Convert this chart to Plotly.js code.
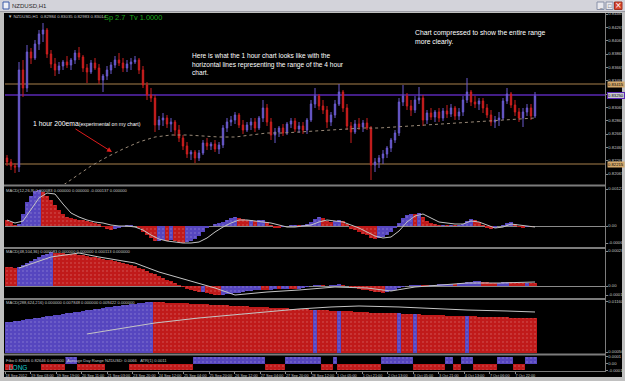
<!DOCTYPE html>
<html><head><meta charset="utf-8">
<script src="https://cdn.plot.ly/plotly-3.0.1.min.js"></script>
<style>html,body{margin:0;padding:0;background:#c0c0c0;overflow:hidden}#chart{width:625px;height:381px}</style>
</head><body><div id="chart"></div>
<script>
// ---------- DATA ----------
const timeLabels = ["18 Sep 2012","19 Sep 03:00","19 Sep 19:00","20 Sep 11:00","21 Sep 03:00","23 Sep 20:00","24 Sep 12:00","25 Sep 04:00","25 Sep 20:00","26 Sep 12:00","27 Sep 04:00","27 Sep 20:00","28 Sep 12:00","1 Oct 05:00","1 Oct 21:00","2 Oct 13:00","3 Oct 05:00","3 Oct 21:00","4 Oct 13:00","7 Oct 06:00","7 Oct 22:00"];
const timeTickIdx = [-0.5,5.9,12.3,18.6,25.0,31.4,37.8,44.1,50.5,56.9,63.3,69.6,76.0,82.4,88.8,95.1,101.5,107.9,114.3,120.6,127.0];

const openP = [0.82305,0.82245,0.82185,0.82170,0.83625,0.83355,0.83895,0.83805,0.84015,0.84165,
0.84225,0.83865,0.83715,0.83625,0.83685,0.83745,0.83700,0.83775,0.83880,0.83820,
0.83655,0.83595,0.83730,0.83655,0.83475,0.83535,0.83625,0.83700,0.83775,0.83730,
0.83655,0.83715,0.83745,0.83775,0.83625,0.83400,0.83250,0.83205,0.82800,0.82875,
0.82905,0.82815,0.82845,0.82725,0.82605,0.82485,0.82365,0.82395,0.82305,0.82380,
0.82530,0.82485,0.82515,0.82440,0.82500,0.82755,0.82845,0.82875,0.82950,0.82800,
0.82725,0.82800,0.82845,0.82755,0.82905,0.83055,0.82845,0.82650,0.82695,0.82755,
0.82680,0.82815,0.82860,0.82740,0.82785,0.82725,0.82875,0.83115,0.83235,0.83085,
0.83025,0.82845,0.82950,0.83115,0.83295,0.83055,0.82785,0.82695,0.82815,0.82770,
0.82830,0.82755,0.82200,0.82245,0.82305,0.82365,0.82455,0.82575,0.82680,0.83145,
0.83235,0.83085,0.83025,0.83175,0.83205,0.82875,0.82980,0.82920,0.82995,0.82905,
0.83010,0.82965,0.83055,0.82935,0.82995,0.83175,0.83295,0.83145,0.83115,0.83160,
0.83055,0.82950,0.82845,0.82875,0.82905,0.83160,0.83265,0.83100,0.82995,0.82905,
0.82995,0.83055,0.82935];
const highP = [0.82350,0.82290,0.82230,0.83745,0.83775,0.84000,0.83955,0.84075,0.84225,0.84330,
0.84255,0.83925,0.83805,0.83745,0.83775,0.83835,0.83805,0.83925,0.83970,0.83850,
0.83715,0.83775,0.83805,0.83715,0.83565,0.83685,0.83745,0.83835,0.83880,0.83805,
0.83775,0.83805,0.83835,0.83805,0.83685,0.83445,0.83355,0.83250,0.82935,0.82980,
0.82950,0.82905,0.82875,0.82800,0.82650,0.82545,0.82425,0.82425,0.82425,0.82575,
0.82605,0.82545,0.82575,0.82545,0.82800,0.82905,0.82935,0.82995,0.82980,0.82875,
0.82845,0.82905,0.82905,0.82935,0.83175,0.83115,0.82905,0.82755,0.82785,0.82815,
0.82845,0.82905,0.82905,0.82845,0.82845,0.82905,0.83175,0.83355,0.83265,0.83175,
0.83085,0.82995,0.83175,0.83415,0.83325,0.83115,0.82845,0.82875,0.82905,0.82875,
0.82905,0.82785,0.82305,0.82350,0.82425,0.82485,0.82605,0.82725,0.83205,0.83400,
0.83280,0.83175,0.83235,0.83370,0.83250,0.83025,0.83055,0.83025,0.83055,0.83055,
0.83100,0.83115,0.83085,0.83055,0.83235,0.83505,0.83325,0.83235,0.83205,0.83205,
0.83115,0.83025,0.82935,0.82995,0.83205,0.83355,0.83295,0.83175,0.83055,0.83055,
0.83115,0.83115,0.83295];
const lowP = [0.82185,0.82125,0.82080,0.82095,0.83220,0.83295,0.83715,0.83775,0.83925,0.84045,
0.83805,0.83655,0.83535,0.83565,0.83625,0.83655,0.83625,0.83715,0.83775,0.83595,
0.83430,0.83565,0.83625,0.83415,0.83295,0.83475,0.83565,0.83655,0.83685,0.83595,
0.83595,0.83625,0.83715,0.83565,0.83355,0.83175,0.83145,0.82695,0.82725,0.82785,
0.82755,0.82695,0.82635,0.82545,0.82425,0.82305,0.82275,0.82230,0.82260,0.82350,
0.82425,0.82425,0.82395,0.82365,0.82455,0.82695,0.82785,0.82815,0.82755,0.82665,
0.82695,0.82725,0.82695,0.82725,0.82845,0.82785,0.82575,0.82530,0.82620,0.82635,
0.82650,0.82755,0.82695,0.82680,0.82665,0.82665,0.82845,0.83055,0.83025,0.82965,
0.82755,0.82785,0.82905,0.83085,0.82995,0.82725,0.82530,0.82665,0.82725,0.82695,
0.82725,0.81975,0.82095,0.82155,0.82215,0.82305,0.82395,0.82530,0.82635,0.83085,
0.83025,0.82935,0.82980,0.83115,0.82785,0.82815,0.82875,0.82845,0.82845,0.82860,
0.82905,0.82920,0.82875,0.82875,0.82935,0.83130,0.83085,0.83055,0.83025,0.82980,
0.82905,0.82785,0.82755,0.82785,0.82875,0.83115,0.83055,0.82935,0.82845,0.82770,
0.82935,0.82875,0.82905];
const closeP = [0.82245,0.82185,0.82170,0.83625,0.83355,0.83895,0.83805,0.84015,0.84165,0.84225,
0.83865,0.83715,0.83625,0.83685,0.83745,0.83700,0.83775,0.83880,0.83820,0.83655,
0.83595,0.83730,0.83655,0.83475,0.83535,0.83625,0.83700,0.83775,0.83730,0.83655,
0.83715,0.83745,0.83775,0.83625,0.83400,0.83250,0.83205,0.82800,0.82875,0.82905,
0.82815,0.82845,0.82725,0.82605,0.82485,0.82365,0.82395,0.82305,0.82380,0.82530,
0.82485,0.82515,0.82440,0.82500,0.82755,0.82845,0.82875,0.82950,0.82800,0.82725,
0.82800,0.82845,0.82755,0.82905,0.83055,0.82845,0.82650,0.82695,0.82755,0.82680,
0.82815,0.82860,0.82740,0.82785,0.82725,0.82875,0.83115,0.83235,0.83085,0.83025,
0.82845,0.82950,0.83115,0.83295,0.83055,0.82785,0.82695,0.82815,0.82770,0.82830,
0.82755,0.82200,0.82245,0.82305,0.82365,0.82455,0.82575,0.82680,0.83145,0.83235,
0.83085,0.83025,0.83175,0.83205,0.82875,0.82980,0.82920,0.82995,0.82905,0.83010,
0.82965,0.83055,0.82935,0.82995,0.83175,0.83295,0.83145,0.83115,0.83160,0.83055,
0.82950,0.82845,0.82875,0.82905,0.83160,0.83265,0.83100,0.82995,0.82905,0.82995,
0.83055,0.82935,0.83235];

const emaIdx = [13,17,21,25,29,33,37,41,45,49,53,57,61,65,69,73,77,81,85,89,93,97,101,105,109,113,117,121,125,129,132];
const ema200 = [0.81855,0.82020,0.82185,0.82320,0.82440,0.82545,0.82620,0.82650,0.82650,0.82635,0.82620,0.82620,0.82650,0.82680,0.82680,0.82695,0.82710,0.82725,0.82740,0.82755,0.82755,0.82770,0.82785,0.82800,0.82815,0.82830,0.82845,0.82860,0.82875,0.82890,0.82905];

const rangeHigh4h = 0.83415;
const rangeLow4h = 0.82215;
const bidLevel = 0.83250;
const priceTicks = [0.84465,0.84265,0.84065,0.83865,0.83665,0.83465,0.83265,0.83065,0.82865,0.82665,0.82465,0.82265,0.82065];

const macd1Hist = [0.000198,0.000132,0.000033,0.000066,0.000396,0.000792,0.000990,0.001155,0.001188,0.001122,
0.000990,0.000858,0.000693,0.000528,0.000396,0.000297,0.000264,0.000231,0.000198,0.000182,
0.000165,0.000132,0.000099,0.000066,-0.000033,-0.000099,-0.000132,-0.000099,-0.000066,-0.000033,
0.000033,0.000040,0.000000,-0.000066,-0.000198,-0.000297,-0.000396,-0.000495,-0.000479,-0.000462,
-0.000495,-0.000462,-0.000495,-0.000528,-0.000561,-0.000528,-0.000495,-0.000429,-0.000330,-0.000198,
-0.000066,0.000000,0.000066,0.000099,0.000132,0.000198,0.000264,0.000297,0.000264,0.000231,
0.000198,0.000208,0.000165,0.000182,0.000198,0.000132,0.000033,-0.000066,-0.000073,-0.000033,
0.000000,0.000033,0.000036,0.000030,0.000033,0.000066,0.000132,0.000231,0.000297,0.000264,
0.000165,0.000132,0.000165,0.000198,0.000165,0.000066,-0.000099,-0.000132,-0.000198,-0.000264,
-0.000297,-0.000396,-0.000429,-0.000396,-0.000363,-0.000297,-0.000198,-0.000066,0.000099,0.000264,
0.000363,0.000396,0.000389,0.000429,0.000297,0.000165,0.000099,0.000066,0.000033,0.000040,
0.000030,0.000036,0.000026,0.000033,0.000066,0.000165,0.000231,0.000198,0.000132,0.000033,
-0.000066,-0.000099,-0.000066,0.000000,0.000033,0.000099,0.000132,0.000066,-0.000033,-0.000066,
-0.000033,-0.000043,0.000000];
const macd1SigIdx = [0,2,4,6,8,10,12,14,16,18,20,22,24,26,28,30,32,34,36,38,40,42,44,46,48,50,52,54,56,58,60,62,64,66,68,70,72,74,76,78,80,82,84,86,88,90,92,94,96,98,100,102,104,106,108,110,112,114,116,118,120,122,124,126,128,130,132];
const macd1Sig = [0.000198,0.000099,0.000165,0.000528,0.000924,0.001089,0.001056,0.000726,0.000429,0.000297,
0.000198,0.000132,0.000099,0.000033,0,0,-0.000033,-0.000132,-0.000297,-0.000429,
-0.000495,-0.000528,-0.000561,-0.000561,-0.000528,-0.000396,-0.000198,-0.000033,0.000099,0.000198,
0.000198,0.000165,0.000132,0.000099,0.000033,-0.000033,-0.000033,0,0.000033,0.000132,
0.000198,0.000165,0.000132,0.000033,-0.000066,-0.000198,-0.000330,-0.000396,-0.000363,-0.000165,
0.000132,0.000330,0.000396,0.000264,0.000132,0.000099,0.000066,0.000066,0.000165,0.000132,
0.000033,-0.000066,-0.000033,0.000066,0.000033,0,-0.000033];

const macd2Hist = [0.000156,0.000152,0.000148,0.000152,0.000168,0.000184,0.000200,0.000216,0.000232,0.000248,
0.000256,0.000272,0.000268,0.000264,0.000262,0.000260,0.000258,0.000256,0.000252,0.000248,
0.000240,0.000236,0.000232,0.000224,0.000216,0.000212,0.000208,0.000200,0.000192,0.000184,
0.000176,0.000168,0.000160,0.000148,0.000136,0.000120,0.000108,0.000096,0.000080,0.000064,
0.000052,0.000040,0.000024,0.000008,-0.000008,-0.000024,-0.000032,-0.000040,-0.000048,-0.000046,
-0.000056,-0.000064,-0.000068,-0.000072,-0.000068,-0.000064,-0.000060,-0.000056,-0.000052,-0.000048,
-0.000040,-0.000036,-0.000032,-0.000028,-0.000030,-0.000032,-0.000028,-0.000024,-0.000026,-0.000024,
-0.000020,-0.000022,-0.000024,-0.000020,-0.000016,-0.000008,0.000000,0.000008,0.000012,0.000010,
0.000004,0.000006,0.000012,0.000016,0.000012,0.000004,-0.000004,-0.000012,-0.000020,-0.000028,
-0.000032,-0.000040,-0.000044,-0.000048,-0.000052,-0.000048,-0.000040,-0.000028,-0.000016,-0.000004,
0.000004,0.000008,0.000010,0.000012,0.000008,0.000006,0.000010,0.000012,0.000014,0.000016,
0.000018,0.000020,0.000018,0.000022,0.000024,0.000030,0.000036,0.000040,0.000041,0.000036,
0.000032,0.000028,0.000026,0.000027,0.000030,0.000032,0.000030,0.000028,0.000026,0.000024,
0.000026,0.000024,0.000022];
const macd2SigIdx = [3,11,18,23,32,38,45,52,57,65,73,82,90,96,102,108,115,123,132];
const macd2Sig = [0.000144,0.000232,0.000264,0.000232,0.000184,0.000112,0.000048,-0.000016,-0.000072,-0.000048,-0.000032,-0.000008,-0.000016,-0.000040,-0.000008,0.000008,0.000024,0.000024,0.000032];

const macd3Hist = [0.00716,0.00727,0.00738,0.00749,0.00760,0.00774,0.00787,0.00800,0.00814,0.00827,
0.00840,0.00854,0.00867,0.00880,0.00894,0.00907,0.00920,0.00934,0.00947,0.00960,
0.00974,0.00987,0.01000,0.01013,0.01027,0.01040,0.01051,0.01062,0.01073,0.01085,
0.01096,0.01107,0.01118,0.01129,0.01140,0.01151,0.01160,0.01156,0.01153,0.01149,
0.01145,0.01142,0.01138,0.01134,0.01131,0.01127,0.01123,0.01120,0.01116,0.01112,
0.01107,0.01103,0.01098,0.01094,0.01090,0.01085,0.01081,0.01076,0.01072,0.01068,
0.01063,0.01059,0.01054,0.01050,0.01046,0.01041,0.01037,0.01032,0.01028,0.01024,
0.01019,0.01015,0.01010,0.01006,0.01001,0.00996,0.00991,0.00993,0.00986,0.00981,
0.00976,0.00971,0.00966,0.00969,0.00960,0.00955,0.00949,0.00944,0.00938,0.00933,
0.00927,0.00924,0.00921,0.00918,0.00916,0.00913,0.00910,0.00907,0.00909,0.00903,
0.00898,0.00893,0.00896,0.00886,0.00882,0.00877,0.00872,0.00869,0.00866,0.00862,
0.00859,0.00856,0.00853,0.00850,0.00846,0.00849,0.00841,0.00838,0.00835,0.00832,
0.00830,0.00827,0.00824,0.00821,0.00819,0.00816,0.00814,0.00811,0.00809,0.00806,
0.00804,0.00801,0.00799];
const macd3SigIdx = [20,28,37,48,61,73,81,88,98,107,115,125,132];
const macd3Sig = [0.00450,0.00561,0.00694,0.00805,0.00916,0.01005,0.01049,0.01071,0.01049,0.01005,0.00982,0.00960,0.00938];

const trendLevel = [-1e-4,-1e-4,
0,0,0,0,0,0,0,
-1e-4,-1e-4,-1e-4,-1e-4,-1e-4,-1e-4,
1e-4,1e-4,1e-4,
-1e-4,-1e-4,-1e-4,-1e-4,-1e-4,-1e-4,-1e-4,
0,0,0,0,0,0,
-1e-4,-1e-4,-1e-4,-1e-4,-1e-4,-1e-4,-1e-4,-1e-4,-1e-4,-1e-4,-1e-4,-1e-4,-1e-4,-1e-4,-1e-4,-1e-4,
1e-4,1e-4,1e-4,1e-4,1e-4,1e-4,1e-4,1e-4,1e-4,1e-4,1e-4,1e-4,1e-4,1e-4,1e-4,1e-4,1e-4,1e-4,
-1e-4,-1e-4,-1e-4,-1e-4,-1e-4,
1e-4,1e-4,1e-4,1e-4,1e-4,1e-4,1e-4,1e-4,1e-4,
-1e-4,-1e-4,-1e-4,
1e-4,
-1e-4,-1e-4,-1e-4,-1e-4,-1e-4,-1e-4,-1e-4,-1e-4,-1e-4,-1e-4,-1e-4,
1e-4,1e-4,1e-4,1e-4,1e-4,1e-4,1e-4,1e-4,
-1e-4,-1e-4,-1e-4,-1e-4,-1e-4,-1e-4,-1e-4,-1e-4,
1e-4,1e-4,
-1e-4,-1e-4,
1e-4,1e-4,1e-4,
-1e-4,-1e-4,-1e-4,-1e-4,-1e-4,-1e-4,
1e-4,1e-4,1e-4,1e-4,
-1e-4,-1e-4,-1e-4,
1e-4,1e-4,1e-4];

// ---------- STYLE / BUILD ----------
const W = 625, H = 381;
const px = x => x / W;
const py = y => 1 - y / H;
const BLUE = '#5646bf', RED = '#c01a1a';
const DOT_RED = '#ff8c8c', DOT_BLUE = '#7468d8';
const barIdx = closeP.map((_, i) => i);
function slopeColors(v, up, down) {
  return v.map((val, i) => (i === 0 ? v[1] > v[0] : val > v[i - 1]) ? up : down);
}
const dotPattern = cols => ({fillmode:'overlay', shape:'.', fgcolor:cols.map(c => c === RED ? DOT_RED : DOT_BLUE),
  fgopacity:0.35, size:4, solidity:0.08});
function histTrace(vals, yaxis) {
  const cols = slopeColors(vals, BLUE, RED);
  return {type:'bar', x:barIdx, y:vals, xaxis:'x', yaxis:yaxis, width:1,
    marker:{color:cols, line:{width:0}, pattern:dotPattern(cols)}, hoverinfo:'skip'};
}
const sigLine = (xs, ys, yaxis) => ({type:'scatter', mode:'lines', x:xs, y:ys, xaxis:'x', yaxis:yaxis,
  line:{color:'#c4c4c4', width:1}, hoverinfo:'skip'});
const trendCols = trendLevel.map(v => v > 0 ? BLUE : RED);

const traces = [
  {type:'candlestick', x:barIdx, open:openP, high:highP, low:lowP, close:closeP, xaxis:'x', yaxis:'y',
   whiskerwidth:0,
   increasing:{line:{color:'#6a5acd', width:1}, fillcolor:'#6a5acd'},
   decreasing:{line:{color:'#cc1e1e', width:1}, fillcolor:'#cc1e1e'}, hoverinfo:'skip'},
  {type:'scatter', mode:'lines', x:emaIdx, y:ema200, xaxis:'x', yaxis:'y',
   line:{color:'#9a8a78', width:1, dash:'dot'}, hoverinfo:'skip'},
  histTrace(macd1Hist, 'y2'), sigLine(macd1SigIdx, macd1Sig, 'y2'),
  histTrace(macd2Hist, 'y3'), sigLine(macd2SigIdx, macd2Sig, 'y3'),
  histTrace(macd3Hist, 'y4'), sigLine(macd3SigIdx, macd3Sig, 'y4'),
  {type:'bar', x:barIdx, y:trendLevel, xaxis:'x', yaxis:'y5', width:1,
   marker:{color:trendCols, line:{width:0}, pattern:dotPattern(trendCols)}, hoverinfo:'skip'}
];

const FONT = 'Liberation Sans, Arial, sans-serif';
const tickFont = {family:FONT, size:4.2, color:'#c4c4c4'};
const yBase = {side:'right', anchor:'x', showgrid:false, showline:false, ticks:'outside', ticklen:1.5,
  tickcolor:'#8a8a8a', tickfont:tickFont, fixedrange:true, tickmode:'array'};

const layout = {
  width:W, height:H, margin:{l:0, r:0, t:0, b:0},
  paper_bgcolor:'#c0c0c0', plot_bgcolor:'rgba(0,0,0,0)',
  showlegend:false, bargap:0, boxgap:0.5, hovermode:false,
  font:{family:FONT, size:6, color:'#c4c4c4'},
  xaxis:{domain:[px(5), px(605)], range:[-0.5, 149.5], anchor:'y5', rangeslider:{visible:false},
    showgrid:false, zeroline:false, showline:false, tickmode:'array', tickvals:timeTickIdx, ticktext:timeLabels,
    ticks:'outside', ticklen:2, tickcolor:'#8a8a8a', tickangle:0, ticklabelposition:'outside right',
    tickfont:{family:FONT, size:3.8, color:'#c4c4c4'}, fixedrange:true},
  yaxis:Object.assign({}, yBase, {domain:[py(184), py(13)], range:[0.81915, 0.8448],
    tickvals:priceTicks, tickformat:'.5f', zeroline:false}),
  yaxis2:Object.assign({}, yBase, {domain:[py(247), py(187)], range:[-0.000693, 0.001287],
    tickvals:[0.001221, 0, -0.000561], ticktext:['0.00122','0.00','-0.0006'],
    zeroline:true, zerolinecolor:'#8a8a8a', zerolinewidth:1}),
  yaxis3:Object.assign({}, yBase, {domain:[py(298), py(249)], range:[-0.000096, 0.000296],
    tickvals:[0.00028, 0, -0.000072], ticktext:['0.00028','0.00','-0.0001'],
    zeroline:true, zerolinecolor:'#8a8a8a', zerolinewidth:1}),
  yaxis4:Object.assign({}, yBase, {domain:[py(353), py(300)], range:[0.00028, 0.01204],
    tickvals:[0.0116, 0.0005], ticktext:['0.01160','0.00050'], zeroline:false}),
  yaxis5:Object.assign({}, yBase, {domain:[py(371), py(356)], range:[-0.00011, 0.00011],
    tickvals:[0.0001, 0, -0.0001], ticktext:['0.0001','0.00','-0.0001'], zeroline:false}),
  shapes:[
    {type:'rect', xref:'paper', yref:'paper', x0:0, x1:1, y0:py(11), y1:1, fillcolor:'#d3d3da', line:{width:0}, layer:'below'},
    {type:'line', xref:'paper', yref:'paper', x0:0, x1:1, y0:py(11.5), y1:py(11.5), line:{color:'#9a9aa2', width:1}, layer:'below'},
    {type:'rect', xref:'paper', yref:'paper', x0:px(4), x1:px(622), y0:py(377), y1:py(13), fillcolor:'#000000', line:{width:0}, layer:'below'},
    {type:'line', xref:'paper', yref:'y', x0:px(5), x1:px(605), y0:rangeHigh4h, y1:rangeHigh4h, line:{color:'#a8804c', width:1}, layer:'below'},
    {type:'line', xref:'paper', yref:'y', x0:px(5), x1:px(605), y0:rangeLow4h, y1:rangeLow4h, line:{color:'#a8804c', width:1}, layer:'below'},
    {type:'line', xref:'paper', yref:'y', x0:px(5), x1:px(605), y0:bidLevel, y1:bidLevel, line:{color:'#5a28b4', width:1.5}, layer:'below'},
    {type:'line', xref:'paper', yref:'paper', x0:px(4), x1:px(606), y0:py(185.5), y1:py(185.5), line:{color:'#7c7c7c', width:2}},
    {type:'line', xref:'paper', yref:'paper', x0:px(4), x1:px(606), y0:py(248), y1:py(248), line:{color:'#7c7c7c', width:2}},
    {type:'line', xref:'paper', yref:'paper', x0:px(4), x1:px(606), y0:py(299), y1:py(299), line:{color:'#7c7c7c', width:2}},
    {type:'line', xref:'paper', yref:'paper', x0:px(4), x1:px(606), y0:py(354.5), y1:py(354.5), line:{color:'#7c7c7c', width:2}},
    {type:'line', xref:'paper', yref:'paper', x0:px(4), x1:px(606), y0:py(371.5), y1:py(371.5), line:{color:'#7c7c7c', width:1}},
    {type:'line', xref:'paper', yref:'paper', x0:px(605.5), x1:px(605.5), y0:py(372), y1:py(13), line:{color:'#7c7c7c', width:1}},
    {type:'rect', xref:'paper', yref:'paper', x0:px(3), x1:px(9), y0:py(9), y1:py(2), fillcolor:'#eef0f6', line:{color:'#3a5aa8', width:1}},
    {type:'rect', xref:'paper', yref:'paper', x0:px(597), x1:px(604), y0:py(9.5), y1:py(2), fillcolor:'#e8e8ee', line:{color:'#8890a8', width:1}},
    {type:'rect', xref:'paper', yref:'paper', x0:px(606), x1:px(613), y0:py(9.5), y1:py(2), fillcolor:'#e8e8ee', line:{color:'#8890a8', width:1}},
    {type:'rect', xref:'paper', yref:'paper', x0:px(614.5), x1:px(622), y0:py(9.5), y1:py(2), fillcolor:'#d8442c', line:{color:'#a03020', width:1}}
  ],
  annotations:[]
};

const A = (x, y, text, opts) => Object.assign({xref:'paper', yref:'paper', x:px(x), y:py(y), text:text,
  showarrow:false, xanchor:'left', yanchor:'middle', borderpad:0,
  font:{family:FONT, size:5, color:'#c4c4c4'}}, opts || {});

layout.annotations.push(
  A(11, 6, 'NZDUSD,H1', {font:{family:FONT, size:6, color:'#2a2a2a'}}),
  A(600.5, 6, '_', {xanchor:'center', font:{size:5, color:'#333'}}),
  A(609.5, 6, '□', {xanchor:'center', font:{size:6, color:'#333'}}),
  A(618.2, 5.8, '×', {xanchor:'center', font:{family:'DejaVu Sans', size:8, color:'#ffffff'}}),
  A(7, 17, '▼ NZDUSD,H1  0.82984 0.83035 0.82983 0.83014', {font:{family:FONT, size:4.3, color:'#c4c4c4'}}),
  A(103, 17.5, 'Sp 2.7&nbsp;&nbsp;Tv 1.0000', {font:{family:FONT, size:7.4, color:'#1aa81a'}}),
  A(191, 51, 'Here is what the 1 hour chart looks like with the<br>horizontal lines representing the range of the 4 hour<br>chart.',
    {yanchor:'top', align:'left', font:{family:FONT, size:6.6, color:'#ffffff'}}),
  A(414, 28, 'Chart compressed to show the entire range<br>more clearly.',
    {yanchor:'top', align:'left', font:{family:FONT, size:6.8, color:'#ffffff'}}),
  A(32, 123, '1 hour 200ema<span style="font-size:5.2px">(experimental on my chart)</span>',
    {font:{family:FONT, size:6.8, color:'#ffffff'}}),
  {xref:'paper', yref:'paper', x:px(112), y:py(152), ax:-38, ay:-24, text:'', showarrow:true,
   arrowcolor:'#e01c1c', arrowhead:2, arrowsize:1, arrowwidth:1},
  A(606.5, 0, rangeHigh4h.toFixed(5), {yref:'y', y:rangeHigh4h, bgcolor:'#d6aa6c', font:{size:4.2, color:'#000'}}),
  A(606.5, 0, bidLevel.toFixed(5), {yref:'y', y:bidLevel, bgcolor:'#c8c8d0', bordercolor:'#5a28b4', borderwidth:1, font:{size:4.2, color:'#000'}}),
  A(606.5, 0, rangeLow4h.toFixed(5), {yref:'y', y:rangeLow4h, bgcolor:'#d6aa6c', font:{size:4.2, color:'#000'}}),
  A(5, 190, 'MACD(12,26,9) 0.000083 0.000000 0.000000 -0.000137 0.000000', {font:{size:4.1, color:'#c4c4c4'}}),
  A(5, 251.5, 'MACD(48,104,36) 0.000083 0.000000 0.000000 0.000113 0.000000', {font:{size:4.1, color:'#c4c4c4'}}),
  A(5, 302.5, 'MACD(288,624,216) 0.000000 0.007848 0.000000 0.009422 0.000000', {font:{size:4.1, color:'#c4c4c4'}}),
  A(5, 360, 'Fibo 0.82646 0.82646 0.000000', {font:{size:4.1, color:'#c4c4c4'}, bgcolor:'#000000'}),
  A(66, 360, 'Average Day Range NZDUSD: 0.0066&nbsp;&nbsp;&nbsp;ATR(1) 0.0011', {font:{size:4.1, color:'#c4c4c4'}}),
  A(8, 367, 'LONG', {font:{family:FONT, size:6.5, color:'#19c8c8'}})
);

Plotly.newPlot('chart', traces, layout, {staticPlot:true, displayModeBar:false});
</script>
</body></html>
